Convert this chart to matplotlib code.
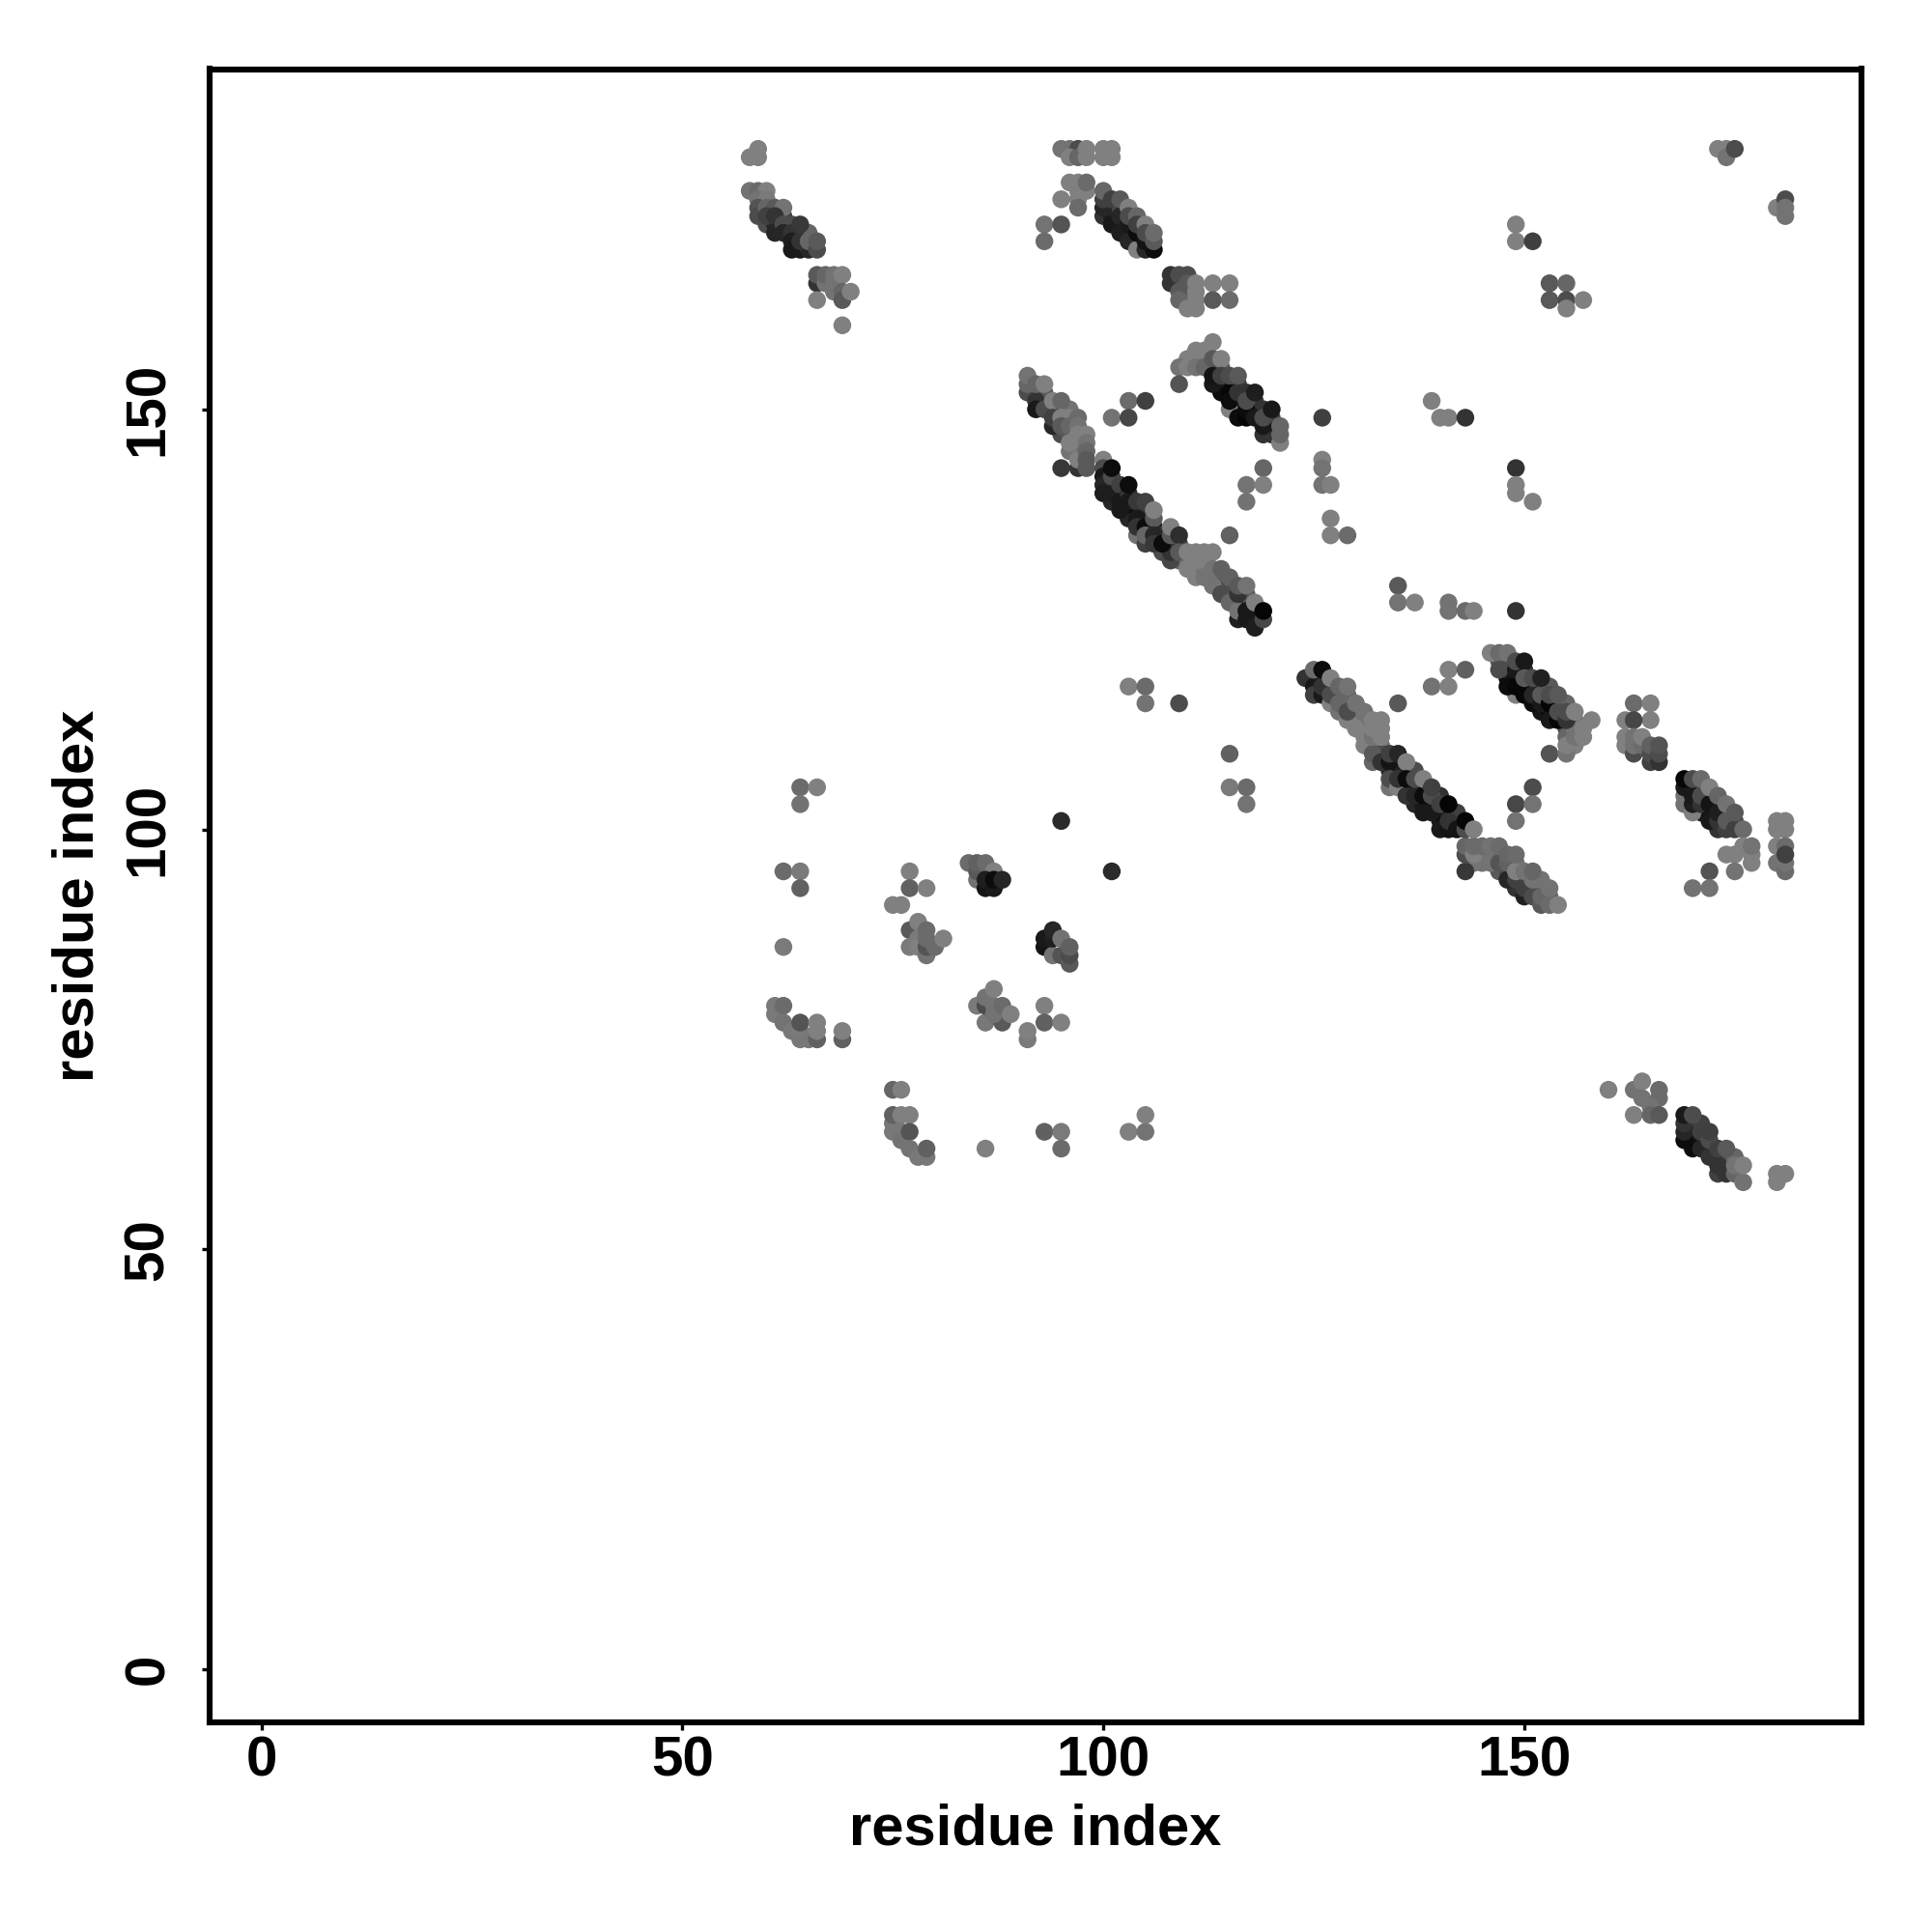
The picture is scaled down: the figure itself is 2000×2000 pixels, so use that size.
import matplotlib
matplotlib.use('Agg')
import matplotlib.pyplot as plt

plt.rcParams['font.family'] = ['Liberation Sans', 'DejaVu Sans']

# (residue i, residue j, grey level), one list per cluster
fill_a = [(60,172,.3),(60,173,.3),(61,172,.15),(62,173,.25),(63,172,.3),(64,171,.2),(65,171,.4)]
fill_b = [(100,173,.2),(101,173,.12),(101,174,.15),(102,172,.1),(103,171,.1),(104,170,.08),(102,174,.3)]
fill_c = [(109,165,.3),(110,164,.4),(110,163,.45),(111,163,.5)]
fill_d = [(92,152,.25),(93,151,.25),(93,152,.35),(94,150,.2),(95,150,.3),(95,147,.3),(96,147,.35),(96,150,.45),
    (97,146,.4),(97,145,.45),(96,145,.45)]
fill_e = [(101,141,.12),(101,139,.15),(102,140,.08),(103,138,.1),(103,137,.15),(104,138,.06),(104,135,.45),(105,137,.08),
    (105,138,.2),(105,134,.25),(106,136,.12),(107,135,.2),(107,133,.3),(108,134,.1),(109,132,.4),(109,134,.3),(110,132,.45),
    (111,131,.45),(111,130,.5),(112,131,.45),(113,130,.4),(114,130,.4),(114,129,.35),(115,128,.2),(115,129,.3),(116,127,.15),
    (117,127,.15),(117,128,.35),(118,126,.1),(118,125,.08)]
fill_f = [(111,156,.5),(112,156,.45),(113,155,.35),(114,155,.35),(114,153,.08),(114,152,.05),(115,153,.1),(116,150,.04),(116,151,.05),
    (116,153,.25),(117,152,.2),(118,150,.05),(118,151,.2),(119,150,.2),(120,147,.2),(120,148,.1),(120,149,.25)]
fill_g = [(147,120,.35),(148,118,.05),(148,119,.15),(148,120,.3),(149,118,.08),(150,117,.05),(150,119,.2),(151,117,.05),
    (152,114,.08),(152,117,.2),(153,114,.05),(153,117,.35),(154,115,.2),(155,115,.4),(155,112,.3),(155,111,.4),(156,112,.45),
    (156,113,.45),(156,110,.5)]
fill_h = [(169,103,.45),(170,105,.15),(171,105,.25),(171,102,.12),(172,102,.05),(172,104,.2),(173,103,.15),(173,100,.2),
    (174,102,.25),(175,101,.3)]
fill_k = [(144,96,.45),(145,97,.45),(145,96,.45),(146,97,.45),(147,97,.42),(147,95,.35),(148,95,.3),(149,93,.2),(149,96,.45),
    (150,94,.3),(151,93,.25),(152,93,.35),(152,94,.45),(153,92,.4)]
fill_l = [(125,118,.2),(126,118,.1),(127,117,.15),(128,116,.25),(129,115,.4),(129,116,.4),(130,113,.5),(130,114,.45),(131,111,.5),
    (131,112,.5),(131,113,.45),(132,110,.45),(133,110,.45),(133,109,.3),(134,107,.15),(134,105,.45),(135,107,.08),(135,108,.15),
    (136,105,.08),(136,107,.12),(137,105,.05),(137,103,.15),(137,107,.3),(138,103,.08),(138,105,.1),(139,103,.05),(140,101,.1),
    (140,102,.05),(140,104,.2),(141,102,.1),(142,101,.1),(142,102,.25)]
fill_m = [(170,63,.05),(170,64,.1),(170,65,.15),(171,63,.1),(171,65,.25),(172,62,.2),(173,61,.2),(174,60,.2),(174,61,.3),(175,61,.4)]

cluster_a = [(59,181,.5),(58,180,.5),(59,180,.5),(58,176,.45),(59,176,.42),(60,176,.5),(59,175,.45),(60,175,.48),
    (59,174,.33),(59,173,.3),(60,174,.4),(61,174,.35),(62,174,.45),(60,173,.25),(61,173,.2),(61,171,.15),(62,172,.3),
    (62,171,.15),(63,171,.2),(63,170,.12),(63,169,.1),(64,169,.1),(65,169,.15),(64,170,.2),(64,172,.22),
    (65,170,.4),(66,169,.3),(66,170,.35),
    (66,165,.2),(66,166,.35),(67,165,.45),(67,166,.4),(68,165,.45),(68,166,.45),(69,166,.5),(68,164,.45),(69,164,.4),
    (69,163,.35),(70,164,.5),(66,163,.5),(69,160,.5)]
cluster_b = [(95,181,.45),(96,181,.45),(97,181,.3),(96,180,.5),(97,180,.4),(98,180,.5),(98,181,.5),(100,181,.5),(101,181,.5),
    (100,180,.5),(101,180,.5),(97,176,.5),(98,176,.5),(96,177,.5),(97,177,.5),(98,177,.42),(97,175,.5),(97,174,.42),
    (95,175,.5),(93,172,.45),(95,172,.33),(93,170,.42),
    (100,174,.15),(101,172,.1),(102,171,.12),(103,170,.15),(104,169,.5),(105,169,.15),(106,169,.05),(100,175,.25),
    (102,173,.15),(103,172,.1),(104,171,.05),(105,170,.08),(100,176,.4),(101,175,.25),(102,175,.35),(103,174,.5),
    (103,173,.3),(104,173,.4),(104,172,.25),(105,172,.5),(105,171,.3),(106,170,.35),(106,171,.42)]
cluster_c = [(108,165,.2),(108,166,.2),(109,166,.3),(110,166,.3),(110,165,.35),(109,164,.35),(109,163,.4),(111,165,.5),
    (110,162,.5),(111,162,.5),(111,164,.5),(113,165,.5),(115,165,.5),(113,163,.35),(115,163,.42)]
top_right = [(149,172,.5),(149,170,.5),(151,170,.25),(153,165,.35),(155,165,.4),(153,163,.35),(155,163,.3),(155,162,.5),
    (157,163,.5),(173,181,.5),(174,181,.5),(174,180,.45),(175,181,.3),(180,174,.5),(181,175,.3),(181,173,.45),(181,174,.45)]
band_d = [(91,152,.3),(92,151,.2),(92,150,.1),(91,153,.4),(91,154,.45),(92,153,.4),(93,153,.5),(93,150,.3),(94,151,.5),(95,151,.4),
    (94,148,.15),(94,149,.25),(95,149,.5),(96,149,.5),(95,148,.35),(96,148,.4),(97,149,.42),(97,148,.45),
    (96,146,.5),(97,147,.5),(98,147,.5),(98,146,.45),(97,143,.2),(97,144,.5),(98,145,.4),(98,144,.35),(98,143,.35),(95,143,.22),
    (103,151,.42),(105,151,.25),(101,149,.45),(103,149,.28)]
band_e = [(100,144,.5),(100,143,.3),(100,142,.1),(100,141,.15),(100,140,.12),(101,140,.12),(101,142,.3),(101,143,.05),
    (102,141,.25),(102,139,.1),(102,138,.1),(103,140,.2),(103,139,.1),(103,141,.05),(104,139,.22),(104,137,.1),(104,136,.2),
    (105,139,.25),(105,136,.05),(105,135,.4),(106,137,.35),(106,135,.15),(106,134,.22),(106,138,.5),
    (108,132,.28),(108,133,.2),(107,134,.05),(108,135,.35),(108,136,.5),(109,135,.18),(109,133,.35),
    (110,131,.5),(110,133,.5),(111,133,.5),(112,133,.5),(113,133,.5),(111,132,.5),(112,132,.5),(112,130,.45),(113,131,.45),
    (113,129,.45),(114,131,.38),(114,128,.3),(115,127,.4),(115,130,.38),(116,125,.12),(116,126,.45),(116,128,.2),(116,129,.35),
    (117,125,.1),(117,126,.1),(117,129,.45),(118,124,.12),(118,127,.5),(119,125,.28),(119,126,.02)]
band_f = [(113,158,.5),(111,157,.5),(112,157,.5),(110,156,.5),(109,155,.45),(110,155,.5),(111,155,.45),(109,153,.33),
    (112,155,.4),(113,156,.35),(114,156,.5),(113,153,.1),(113,154,.08),(114,154,.25),(115,150,.5),(115,152,.03),(115,151,.05),
    (115,154,.3),(116,152,.2),(116,154,.35),(116,149,.05),(117,149,.02),(117,150,.05),(117,151,.3),(118,149,.1),(118,152,.12),
    (119,147,.2),(119,148,.1),(119,149,.3),(120,150,.1),(121,146,.5),(121,147,.4),(121,148,.4)]
middle_pts = [(126,149,.25),(126,144,.5),(126,143,.45),(126,141,.45),(127,141,.5),(127,137,.5),(127,135,.5),(129,135,.42),
    (119,143,.4),(117,141,.45),(119,141,.5),(117,139,.45),(115,135,.38),(139,151,.5),(140,149,.5),(141,149,.5),(143,149,.2),
    (149,143,.2),(149,141,.5),(149,140,.5),(151,139,.5),(135,129,.35),(135,127,.45),(137,127,.5),(141,127,.45),(141,126,.45),
    (143,126,.42),(144,126,.5),(149,126,.2),(135,115,.35),(141,119,.5),(143,119,.38),(139,117,.45),(141,117,.5),
    (103,117,.5),(105,117,.42),(105,115,.45),(109,115,.3),(115,109,.38),(115,105,.48),(117,105,.42),(117,103,.45),
    (95,101,.17),(101,95,.17),(151,105,.3),(149,103,.28),(151,103,.45),(149,101,.45),(153,109,.33)]
band_g = [(146,121,.5),(147,121,.42),(148,121,.45),(147,119,.3),(149,116,.5),(148,117,.05),(149,117,.03),(149,119,.1),(149,120,.3),(150,120,.1),
    (150,116,.03),(150,118,.35),(151,115,.05),(151,116,.15),(151,118,.3),(152,115,.1),(152,116,.35),(152,118,.13),
    (153,113,.1),(153,115,.02),(153,116,.3),(154,113,.03),(154,114,.3),(154,116,.35),(155,113,.2),(155,114,.3),
    (155,109,.45),(155,110,.5),(156,111,.45),(156,114,.5),(157,111,.5),(157,112,.5),(158,113,.5)]
cluster_h = [(162,113,.5),(163,115,.42),(165,115,.5),(165,113,.5),(163,113,.28),(162,111,.5),(162,110,.5),(163,109,.3),(163,110,.45),
    (163,111,.45),(164,110,.42),(164,111,.5),(165,108,.25),(165,109,.3),(165,110,.38),(166,108,.2),(166,109,.3),(166,110,.33)]
band_h = [(169,104,.45),(170,102,.5),(169,105,.1),(169,106,.03),(170,103,.12),(170,104,.1),(170,106,.3),(171,103,.2),(171,104,.3),(171,106,.42),
    (172,101,.1),(172,103,.08),(172,105,.5),(173,101,.2),(173,102,.12),(173,104,.4),(174,100,.25),(174,101,.35),(174,103,.45),
    (175,100,.25),(175,102,.35),(176,100,.42),(174,97,.5),(175,97,.5),(176,98,.5),(177,96,.5),(177,97,.5),(177,98,.45),(175,95,.45),
    (172,95,.33),(170,93,.45),(172,93,.45),(180,101,.5),(181,101,.5),(180,100,.5),(181,100,.5),(180,98,.5),(180,96,.45),
    (181,98,.42),(181,95,.42),(181,96,.45),(181,97,.25)]
band_k = [(143,95,.22),(143,97,.3),(143,98,.4),(144,97,.5),(144,98,.42),(145,98,.42),(146,96,.45),(146,98,.45),(147,96,.33),(147,98,.42),
    (148,94,.15),(148,96,.38),(148,97,.4),(149,94,.25),(149,95,.5),(149,97,.42),(150,92,.13),(150,93,.25),(150,95,.45),(151,92,.3),
    (151,94,.45),(151,95,.4),(152,91,.35),(152,92,.4),(153,91,.42),(153,93,.45),(154,91,.5)]
band_l = [(124,118,.2),(125,117,.1),(125,116,.25),(125,119,.42),(126,116,.1),(126,117,.2),(126,119,.05),(127,115,.5),(127,116,.3),(127,118,.5),
    (128,114,.45),(128,115,.4),(128,117,.4),(129,113,.5),(129,114,.3),(129,117,.45),(130,112,.5),(130,115,.45),(131,110,.5),(131,114,.45),
    (132,108,.4),(132,109,.35),(132,111,.45),(132,112,.5),(132,113,.5),(133,111,.5),(133,112,.5),(133,113,.5),(133,108,.2),(134,108,.08),(134,109,.25),
    (135,109,.15),(136,108,.5),(134,106,.3),(135,105,.5),(135,106,.2),(136,104,.2),(136,106,.05),(137,104,.15),(137,106,.3),(138,102,.1),
    (138,104,.05),(138,106,.5),(139,102,.1),(139,104,.3),(139,105,.25),(140,100,.1),(140,103,.25),(141,100,.08),(141,101,.2),(141,103,.02),
    (142,100,.08),(143,100,.3),(143,101,.03),(144,100,.5)]
band_m = [(160,69,.5),(163,69,.45),(164,70,.5),(166,69,.42),(164,68,.45),(166,68,.42),(163,66,.5),(165,67,.45),(165,66,.4),(166,66,.35),
    (169,63,.05),(169,64,.15),(169,65,.2),(169,66,.1),(170,62,.05),(170,66,.3),(171,62,.15),(171,64,.25),(172,61,.2),(172,63,.3),(172,64,.25),
    (173,59,.25),(173,60,.2),(173,62,.25),(174,59,.2),(174,62,.35),(175,59,.4),(175,60,.45),(176,58,.45),(176,60,.5),(180,58,.5),(180,59,.5),(181,59,.5)]
lower_left = [(62,95,.42),(64,95,.48),(64,93,.38),(62,86,.48),(64,105,.42),(66,105,.5),(64,103,.45),
    (61,78,.48),(61,79,.48),(62,79,.42),(62,77,.45),(63,76,.47),(64,75,.47),(64,76,.48),(64,77,.33),(65,75,.47),(66,75,.38),(66,76,.5),(66,77,.5),
    (69,75,.38),(69,76,.5),(77,95,.5),(77,93,.38),(79,93,.5),(75,91,.5),(76,91,.5),
    (77,88,.35),(78,89,.5),(77,86,.48),(78,87,.48),(78,86,.5),(79,85,.45),(79,86,.33),(79,87,.42),(79,88,.42),(80,86,.42),(81,87,.5),
    (84,96,.42),(85,94,.45),(85,95,.35),(85,96,.38),(86,96,.42),(87,95,.5),(86,93,.08),(86,94,.12),(87,93,.1),(87,94,.05),(88,94,.15),
    (93,86,.08),(93,87,.1),(94,85,.45),(94,87,.12),(94,88,.15),(95,85,.33),(95,87,.45),(96,84,.35),(96,85,.3),(96,86,.38),
    (85,79,.48),(86,77,.47),(86,79,.3),(86,80,.45),(88,77,.35),(87,78,.45),(87,79,.45),(88,79,.42),(87,81,.5),(89,78,.5),
    (91,75,.48),(91,76,.5),(93,79,.5),(93,77,.38),(95,77,.5),
    (75,69,.4),(76,69,.5),(75,64,.47),(75,65,.47),(75,66,.38),(76,66,.5),(77,66,.5),(76,64,.47),(76,63,.45),(77,64,.33),(77,62,.45),
    (78,61,.47),(79,61,.47),(79,62,.38),(86,62,.5),(93,64,.38),(95,64,.48),(95,62,.42),(103,64,.5),(105,64,.45),(105,66,.5)]

clusters = [fill_a, fill_b, fill_c, fill_d, fill_e, fill_f, fill_g, fill_h, fill_k, fill_l, fill_m,
            cluster_a, cluster_b, cluster_c, top_right, band_d, band_e, band_f, middle_pts,
            band_g, cluster_h, band_h, band_k, band_l, band_m, lower_left]

tick_vals = [0, 50, 100, 150]
axis_name = 'residue index'

fig = plt.figure(figsize=(10, 10), dpi=200)
ax = fig.add_axes([217 / 2000, 1 - 1783 / 2000, (1927 - 217) / 2000, (1783 - 71.5) / 2000])

for pts in clusters:
    xs = [p[0] for p in pts]
    ys = [p[1] for p in pts]
    grey = [p[2] for p in pts]
    ax.scatter(xs, ys, c=grey, cmap='gray', vmin=0, vmax=1, s=44, linewidths=0, zorder=3)

ax.set_xlim(-6.15, 190.05)
ax.set_ylim(-6.3, 190.5)
ax.set_xticks(tick_vals)
ax.set_yticks(tick_vals)
ax.tick_params(length=3, width=1.2, labelsize=21)
ax.tick_params(axis='x', pad=2)
ax.tick_params(axis='y', pad=10)
for lab in ax.get_xticklabels() + ax.get_yticklabels():
    lab.set_fontweight('bold')
for lab in ax.get_yticklabels():
    lab.set_rotation(90)
    lab.set_va('center')
for sp in ax.spines.values():
    sp.set_linewidth(2.2)

ax.set_xlabel(axis_name, fontsize=21.5, fontweight='bold')
ax.set_ylabel(axis_name, fontsize=21.5, fontweight='bold')
ax.xaxis.set_label_coords(0.5, -0.049)
ax.yaxis.set_label_coords(-0.0633, 0.5)

fig.savefig('out.png')
